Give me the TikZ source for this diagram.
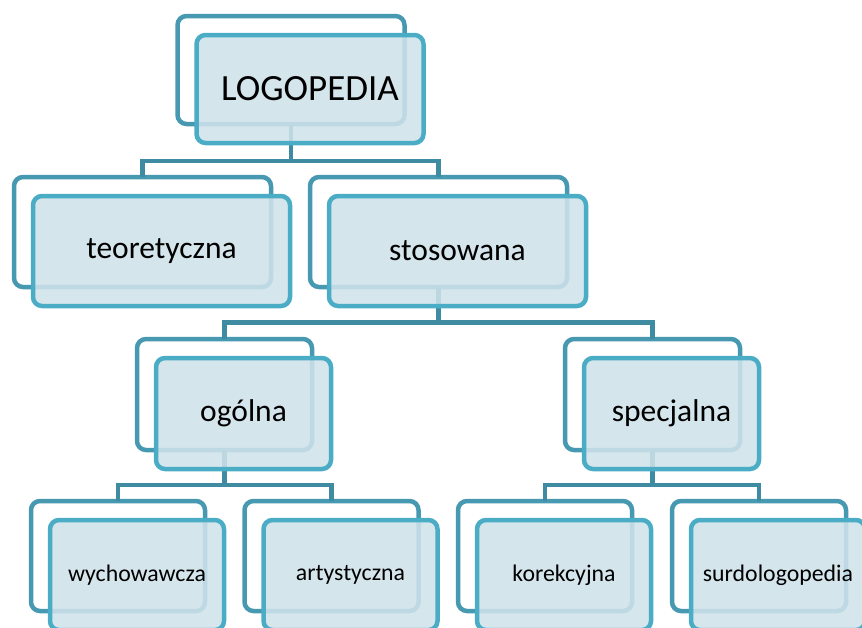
\documentclass[tikz,border=0pt]{standalone}
\usepackage{fontspec}
\setmainfont{Carlito}
\definecolor{backc}{HTML}{4799B1}
\definecolor{connc}{HTML}{3F8CA2}
\definecolor{frontc}{HTML}{4BACC6}
\definecolor{frontfill}{HTML}{CFE2EA}
\begin{document}
\begin{tikzpicture}[x=1pt,y=-1pt,
  backbox/.style={draw=backc, line width=4.5pt, rounded corners=9pt, inner sep=0pt, outer sep=0pt, fill=white},
  frontbox/.style={draw=frontc, line width=4.5pt, rounded corners=9pt, inner sep=0pt, outer sep=0pt,
    fill=frontfill, fill opacity=0.88, text opacity=1, text=black},
  conn/.style={draw=connc, line width=4.5pt, line join=miter},
  lvA/.style={minimum width=227pt, minimum height=108pt},
  lvB/.style={minimum width=257pt, minimum height=110pt},
  lvC/.style={minimum width=175pt, minimum height=111pt},
  lvD/.style={minimum width=174pt, minimum height=110pt},
  fA/.style={font=\fontsize{37}{40}\selectfont},
  fB/.style={font=\fontsize{31.5}{34}\selectfont},
  fD/.style={font=\fontsize{23.8}{26}\selectfont}]
\useasboundingbox (0,0) rectangle (862,627);

% back boxes
\node[backbox,lvA] (root) at (291,70) {};
\node[backbox,lvB] (teo) at (142.5,232) {};
\node[backbox,lvB] (sto) at (438.5,232) {};
\node[backbox,lvC] (ogo) at (224.5,394.5) {};
\node[backbox,lvC] (spe) at (652.5,394.5) {};
\node[backbox,lvD] (wyc) at (118,556) {};
\node[backbox,lvD] (art) at (331.5,556) {};
\node[backbox,lvD] (kor) at (545,556) {};
\node[backbox,lvD] (sur) at (759,556) {};

% connectors
\draw[conn] (root.south) -- ++(0,37) -| (teo.north);
\draw[conn] (root.south) -- ++(0,37) -| (sto.north);
\draw[conn] (sto.south) -- ++(0,35.5) -| (ogo.north);
\draw[conn] (sto.south) -- ++(0,35.5) -| (spe.north);
\draw[conn] (ogo.south) -- ++(0,35) -| (wyc.north);
\draw[conn] (ogo.south) -- ++(0,35) -| (art.north);
\draw[conn] (spe.south) -- ++(0,35) -| (kor.north);
\draw[conn] (spe.south) -- ++(0,35) -| (sur.north);

% front boxes
\node[frontbox,lvA,fA] (rootf) at (310,89) {LOGOPEDIA};
\node[frontbox,lvB,fB] (teof) at (161.5,251) {teoretyczna};
\node[frontbox,lvB,fB] (stof) at (457.5,251) {stosowana};
\node[frontbox,lvC,fB] (ogof) at (243.5,413.5) {ogólna};
\node[frontbox,lvC,fB] (spef) at (671.5,413.5) {specjalna};
\node[frontbox,lvD,fD] (wycf) at (137,575) {wychowawcza};
\node[frontbox,lvD,fD] (artf) at (350.5,575) {artystyczna};
\node[frontbox,lvD,fD] (korf) at (564,575) {korekcyjna};
\node[frontbox,lvD,fD] (surf) at (778,575) {surdologopedia};
\end{tikzpicture}
\end{document}
